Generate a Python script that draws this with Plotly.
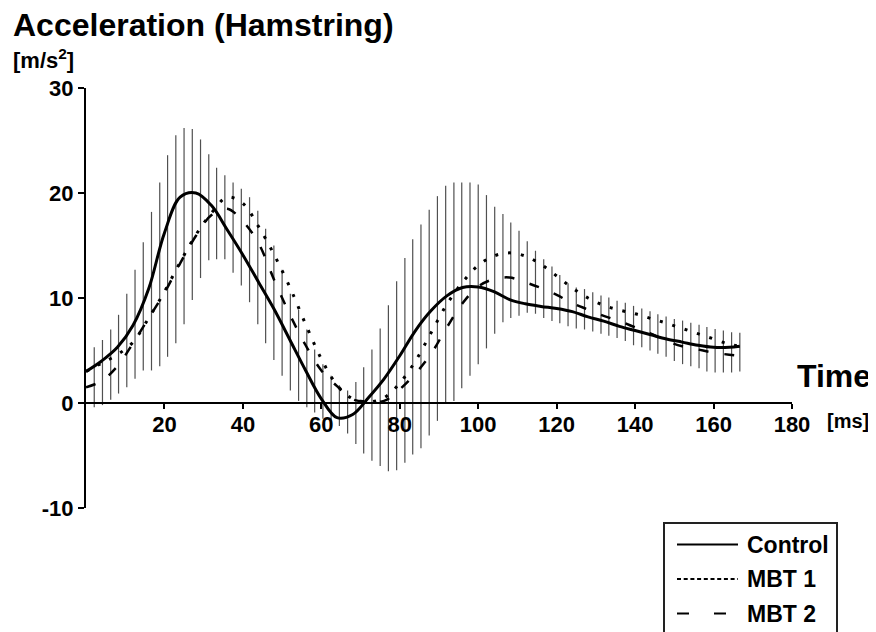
import plotly.graph_objects as go

# ---------------- data ----------------
t_line = [0, 4, 8, 12, 16, 20, 24, 28, 32, 36, 40, 44, 48, 52, 56, 60, 64, 68, 72, 76,
          80, 84, 88, 92, 96, 100, 104, 108, 112, 116, 120, 124, 128, 132, 136, 140,
          144, 148, 152, 156, 160, 164, 166.7]

control = [3.0, 4.0, 5.3, 7.4, 10.9, 16.2, 19.6, 20.0, 18.8, 16.5, 14.1, 11.5, 8.9, 6.0,
           3.1, 0.4, -1.4, -1.1, 0.5, 2.3, 4.5, 6.9, 8.8, 10.2, 11.0, 11.05, 10.6, 9.85,
           9.45, 9.2, 9.0, 8.7, 8.2, 7.8, 7.3, 6.9, 6.5, 6.1, 5.8, 5.5, 5.3, 5.3, 5.4]

mbt1 = [3.0, 3.8, 4.6, 5.8, 8.1, 10.6, 13.4, 16.0, 18.1, 19.6, 19.0, 16.8, 14.1, 11.0,
        7.5, 4.2, 1.7, 0.4, 0.1, 0.5, 1.9, 4.0, 6.7, 9.4, 11.5, 13.1, 14.0, 14.3, 14.0,
        13.2, 12.1, 10.95, 10.0, 9.3, 8.85, 8.5, 8.05, 7.6, 7.1, 6.6, 6.1, 5.6, 5.4]

mbt2 = [1.5, 2.1, 3.5, 5.7, 8.1, 10.5, 13.3, 15.9, 17.9, 18.5, 17.3, 15.2, 11.7, 8.4,
        5.5, 3.1, 1.6, 0.35, 0.15, 0.2, 1.3, 2.8, 4.7, 7.2, 9.5, 11.1, 11.8, 11.95, 11.5,
        10.95, 10.3, 9.5, 8.9, 8.3, 7.8, 7.2, 6.6, 5.9, 5.4, 5.1, 4.8, 4.6, 4.5]

t_sd = [2.1, 4.2, 6.3, 8.3, 10.4, 12.5, 14.6, 16.7, 18.8, 20.8, 22.9, 25.0, 27.1, 29.2,
        31.3, 33.3, 35.4, 37.5, 39.6, 41.7, 43.8, 45.8, 47.9, 50.0, 52.1, 54.2, 56.3,
        58.3, 60.4, 62.5, 64.6, 66.7, 68.8, 70.8, 72.9, 75.0, 77.1, 79.2, 81.3, 83.3,
        85.4, 87.5, 89.6, 91.7, 93.8, 95.8, 97.9, 100.0, 102.1, 104.2, 106.3, 108.3,
        110.4, 112.5, 114.6, 116.7, 118.8, 120.8, 122.9, 125.0, 127.1, 129.2, 131.3,
        133.3, 135.4, 137.5, 139.6, 141.7, 143.8, 145.8, 147.9, 150.0, 152.1, 154.2,
        156.3, 158.3, 160.4, 162.5, 164.6, 166.7]

sd_hi = [5.3, 6.0, 7.0, 8.4, 10.4, 12.7, 15.3, 18.2, 21.0, 23.6,
         25.5, 26.2, 26.1, 25.1, 23.7, 22.4, 21.7, 21.0, 20.4, 19.6,
         18.3, 16.6, 15.0, 12.7, 10.4, 8.9, 7.0, 5.1, 3.7, 2.6,
         1.7, 1.2, 2.0, 3.4, 5.1, 7.1, 9.3, 11.6, 13.8, 15.6,
         17.0, 18.4, 19.7, 20.7, 21.0, 21.0, 21.0, 20.8, 19.8, 18.7,
         18.0, 17.2, 16.4, 15.4, 14.5, 13.7, 13.0, 12.2, 11.4, 11.0,
         10.85, 10.55, 10.25, 10.05, 9.75, 9.55, 9.25, 9.0, 8.75, 8.45,
         8.25, 8.0, 7.85, 7.65, 7.45, 7.25, 7.05, 6.9, 6.75, 6.7]

sd_lo = [-0.4, -0.2, 0.3, 0.9, 1.5, 2.3, 3.1, 3.1, 3.5, 4.4,
         5.7, 7.5, 9.8, 11.9, 13.6, 13.7, 13.7, 12.4, 11.2, 9.6,
         7.5, 5.7, 4.1, 2.6, 1.2, 0.2, -0.4, -0.9, -1.5, -2.1,
         -2.2, -2.9, -3.9, -4.8, -5.5, -6.0, -6.5, -6.4, -5.7, -4.9,
         -4.3, -3.1, -1.7, 0.0, 0.2, 1.4, 2.6, 3.7, 5.2, 6.6,
         7.7, 8.1, 8.3, 8.6, 8.5, 8.1, 7.8, 7.6, 7.3, 7.1,
         7.0, 6.8, 6.6, 6.4, 6.2, 5.9, 5.5, 5.3, 5.0, 4.7,
         4.4, 4.0, 3.7, 3.5, 3.3, 3.0, 2.9, 2.9, 2.9, 3.0]

x_ticks = [20, 40, 60, 80, 100, 120, 140, 160, 180]
y_ticks = [-10, 0, 10, 20, 30]
y_ticklabels = ["-10", "0", "10", "20", "30"]
legend_names = ["Control", "MBT 1", "MBT 2"]

# ---------------- layout helpers ----------------
FONT = "Liberation Sans, Arial, Helvetica, sans-serif"
VIEW_W, VIEW_H = 876, 632
OFF = 8                      # default page body margin
PL, PR, PT, PB = 86, 792, 88, 508   # plot area in window pixels
PW, PH = PR - PL, PB - PT


def px(x):
    return (x - PL) / PW


def py(y):
    return (PB - y) / PH


# error bars as vertical segments
bx, by = [], []
for t, lo, hi in zip(t_sd, sd_lo, sd_hi):
    bx += [t, t, None]
    by += [lo, hi, None]

fig = go.Figure()
fig.add_trace(go.Scatter(x=bx, y=by, mode="lines",
                         line=dict(color="#505050", width=1.2),
                         showlegend=False, hoverinfo="skip"))
fig.add_trace(go.Scatter(x=t_line, y=mbt2, mode="lines", name=legend_names[2],
                         line=dict(color="black", width=2.5, dash="10px,16px",
                                   shape="spline"), showlegend=False))
fig.add_trace(go.Scatter(x=t_line, y=mbt1, mode="lines", name=legend_names[1],
                         line=dict(color="black", width=3, dash="3px,10px",
                                   shape="spline"), showlegend=False))
fig.add_trace(go.Scatter(x=t_line, y=control, mode="lines", name=legend_names[0],
                         line=dict(color="black", width=3, shape="spline"),
                         showlegend=False))

tickfont = dict(family=FONT, size=22, color="black", weight="bold")

fig.update_layout(
    width=VIEW_W - OFF, height=VIEW_H - OFF,
    margin=dict(l=PL - OFF, r=VIEW_W - PR, t=PT - OFF, b=VIEW_H - PB, pad=0),
    paper_bgcolor="white", plot_bgcolor="white",
    font=dict(family=FONT, color="black"),
    xaxis=dict(range=[0, 180], tickvals=x_ticks, ticks="outside", ticklen=5,
               tickwidth=2, tickcolor="black", showline=True, linewidth=2,
               linecolor="black", showgrid=False, zeroline=False,
               anchor="free", position=0.25, tickfont=tickfont,
               ticklabelstandoff=-3),
    yaxis=dict(range=[-10, 30], tickvals=y_ticks, ticktext=y_ticklabels,
               ticks="outside", ticklen=6, tickwidth=2, tickcolor="black",
               showline=True, linewidth=2, linecolor="black", showgrid=False,
               zeroline=False, tickfont=tickfont),
    showlegend=False,
)

ann = []


def text(s, x, y, size, xanchor="left"):
    ann.append(dict(text="<b>" + s + "</b>", x=px(x), y=py(y), xref="paper",
                    yref="paper", showarrow=False, xanchor=xanchor,
                    yanchor="middle", font=dict(family=FONT, size=size,
                                                color="black")))


text("Acceleration (Hamstring)", 11, 25, 32)
text("[m/s<sup>2</sup>]", 11, 59, 22)
text("Time", 795, 376, 32)
text("[ms]", 825, 421, 20)

# legend (manual)
shapes = [dict(type="rect", xref="paper", yref="paper", x0=px(664), x1=px(837),
               y0=py(523), y1=py(650), line=dict(color="#222", width=2),
               fillcolor="white", layer="above")]
leg_y = [544.5, 579, 613.5]
leg_dash = ["solid", "4px,2.7px", "12px,25px"]
for name, yy, dsh in zip(legend_names, leg_y, leg_dash):
    shapes.append(dict(type="line", xref="paper", yref="paper", x0=px(677),
                       x1=px(738), y0=py(yy), y1=py(yy),
                       line=dict(color="black", width=2, dash=dsh)))
    text(name, 745, yy, 23)

fig.update_layout(annotations=ann, shapes=shapes)
fig.write_html("out.html")
